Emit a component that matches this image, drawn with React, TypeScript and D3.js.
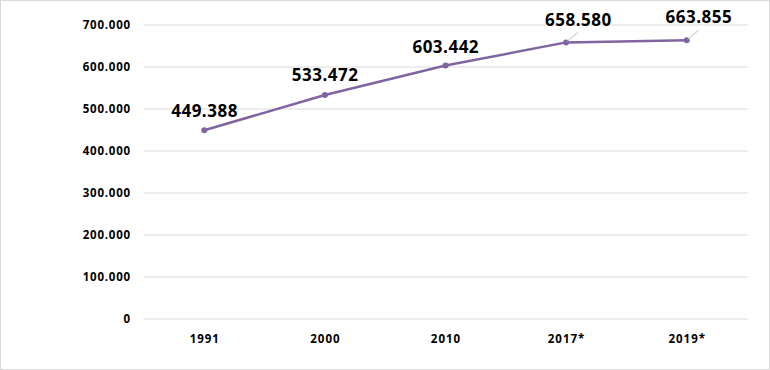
import React from "react";
import * as d3 from "d3";

const categories = ["1991", "2000", "2010", "2017*", "2019*"];
const values = [449388, 533472, 603442, 658580, 663855];
const labels = ["449.388", "533.472", "603.442", "658.580", "663.855"];
const yTicks = [0, 100000, 200000, 300000, 400000, 500000, 600000, 700000];
const yTickLabels = ["0", "100.000", "200.000", "300.000", "400.000", "500.000", "600.000", "700.000"];

const W = 770;
const H = 370;
const font = "'Open Sans', sans-serif";

export default function App() {
  const x = d3.scaleBand<string>().domain(categories).range([144, 747]);
  const y = d3.scaleLinear().domain([0, 700000]).range([319, 25]);
  const cx = (c: string) => (x(c) ?? 0) + x.bandwidth() / 2;
  const line = d3
    .line<number>()
    .x((_, i) => cx(categories[i]))
    .y((v) => y(v));

  const labelOffsets = [
    [0, -13],
    [0, -14],
    [0, -13],
    [12, -16],
    [12, -17],
  ];
  const leaders = [false, false, false, true, true];

  return (
    <svg
      width={W}
      height={H}
      style={{ position: "fixed", left: 0, top: 0, background: "#fff" }}
    >
      <rect x={0.5} y={0.5} width={W - 1} height={H - 1} fill="#fff" stroke="#d9d9d9" />
      {yTicks.map((t, i) => (
        <g key={t}>
          <line x1={144} x2={748} y1={y(t)} y2={y(t)} stroke="#d9d9d9" strokeWidth={1} />
          <text
            x={131}
            y={y(t)}
            dy="0.35em"
            textAnchor="end"
            fontFamily={font}
            fontWeight={700}
            fontSize={11.5}
            letterSpacing={0.8}
            fill="#000"
          >
            {yTickLabels[i]}
          </text>
        </g>
      ))}
      {categories.map((c) => (
        <text
          key={c}
          x={cx(c) + 0.5}
          y={343}
          textAnchor="middle"
          fontFamily={font}
          fontWeight={700}
          fontSize={11.5}
          letterSpacing={1}
          fill="#000"
        >
          {c}
        </text>
      ))}
      <path d={line(values) ?? ""} fill="none" stroke="#8064a2" strokeWidth={2.5} />
      {values.map((v, i) => (
        <circle key={i} cx={cx(categories[i])} cy={y(v)} r={3} fill="#8064a2" />
      ))}
      {values.map((v, i) => {
        const px = cx(categories[i]);
        const py = y(v);
        const [dx, dy] = labelOffsets[i];
        return (
          <g key={"l" + i}>
            {leaders[i] && (
              <line
                x1={px + 1}
                y1={py - 1}
                x2={px + 12}
                y2={py - 10}
                stroke="#bfbfbf"
                strokeWidth={1}
              />
            )}
            <text
              x={px + dx + 0.25}
              y={py + dy}
              textAnchor="middle"
              fontFamily={font}
              fontWeight={700}
              fontSize={17}
              letterSpacing={0.5}
              fill="#000"
            >
              {labels[i]}
            </text>
          </g>
        );
      })}
    </svg>
  );
}
